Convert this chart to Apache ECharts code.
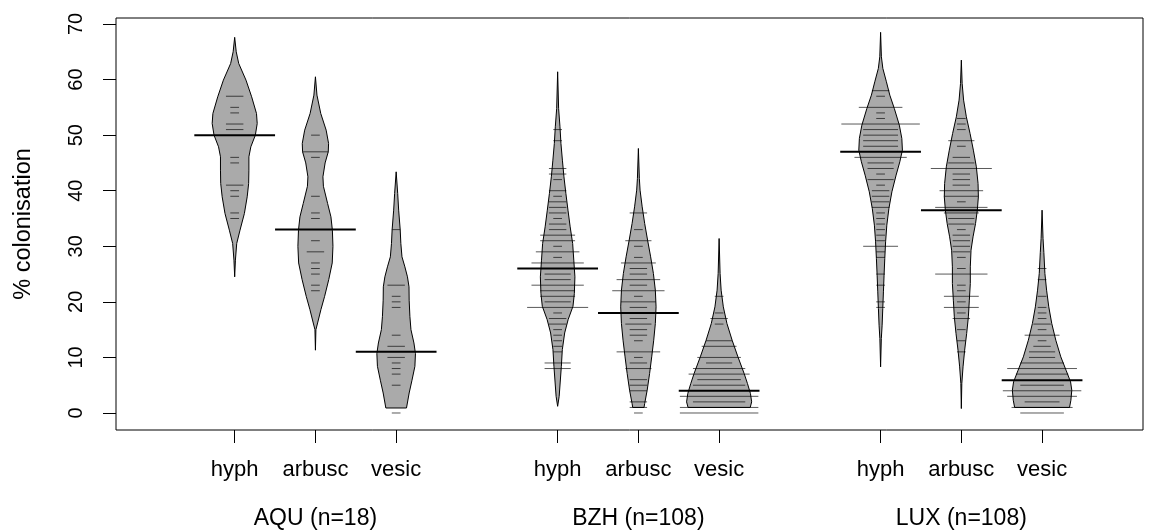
<!DOCTYPE html>
<html>
<head>
<meta charset="utf-8">
<script src="https://cdn.jsdelivr.net/npm/echarts@6/dist/echarts.min.js"></script>
<style>
  html, body { margin: 0; padding: 0; background: #fff; }
  #chart { width: 1155px; height: 530px; }
</style>
</head>
<body>
<div id="chart"></div>
<script>
// ---------- data ----------
const variables = ['hyph', 'arbusc', 'vesic'];
const sites = ['AQU (n=18)', 'BZH (n=108)', 'LUX (n=108)'];
const positions = [1, 2, 3, 5, 6, 7, 9, 10, 11];
const sitePositions = [2, 6, 10];
const yTicks = [0, 10, 20, 30, 40, 50, 60, 70];
const means = [50.0, 33.0, 11.0, 26.0, 18.0, 4.0, 47.0, 36.5, 5.9];

// density profiles: [value, half-width in axis units], bottom to top
const aquHyphDensity = [[24.5,0],[27.5,0.009],[30.5,0.025],[32.9,0.066],[35.9,0.12],[38.9,0.155],[41.3,0.173],[43.7,0.176],[46.1,0.176],[47.9,0.2],[50.0,0.256],[52.1,0.279],[53.9,0.27],[56.9,0.21],[59.9,0.14],[62.9,0.05],[65.0,0.019],[67.6,0]];
const aquArbuscDensity = [[11.3,0],[15.0,0.006],[16.2,0.027],[18.6,0.068],[21.0,0.114],[24.0,0.165],[27.0,0.208],[30.0,0.217],[32.9,0.21],[35.3,0.192],[37.7,0.151],[40.8,0.099],[42.5,0.093],[45.0,0.12],[47.0,0.159],[48.5,0.163],[50.9,0.133],[53.9,0.066],[57.2,0.019],[60.5,0]];
const aquVesicDensity = [[0.9,0.128],[3.6,0.161],[5.9,0.196],[8.4,0.232],[10.7,0.239],[12.6,0.22],[15.0,0.183],[17.4,0.17],[20.3,0.161],[22.7,0.159],[24.5,0.14],[26.3,0.108],[28.1,0.072],[30.5,0.058],[33.0,0.05],[36.5,0.031],[39.5,0.019],[43.4,0]];
const bzhHyphDensity = [[1.2,0],[3.0,0.019],[5.4,0.031],[8.4,0.046],[11.4,0.058],[14.4,0.087],[16.8,0.13],[19.2,0.19],[21.5,0.207],[24.5,0.214],[27.5,0.2],[30.5,0.186],[33.5,0.155],[36.5,0.128],[39.5,0.102],[42.5,0.078],[45.5,0.059],[48.5,0.041],[51.5,0.029],[54.8,0.012],[61.4,0]];
const bzhArbuscDensity = [[1.0,0.07],[1.7,0.078],[4.1,0.109],[7.1,0.139],[10.1,0.165],[13.1,0.19],[16.1,0.21],[19.1,0.219],[22.1,0.21],[25.1,0.186],[28.1,0.152],[31.1,0.114],[34.1,0.078],[37.1,0.047],[40.1,0.021],[42.2,0.012],[47.6,0]];
const bzhVesicDensity = [[1.0,0.385],[2.0,0.403],[3.5,0.388],[5.3,0.351],[7.1,0.31],[10.1,0.233],[13.1,0.161],[16.1,0.097],[19.1,0.052],[22.1,0.025],[25.1,0.012],[31.4,0]];
const luxHyphDensity = [[8.3,0],[13.4,0.009],[15.8,0.019],[18.8,0.027],[21.8,0.035],[24.8,0.043],[27.8,0.052],[30.8,0.062],[33.8,0.077],[36.8,0.103],[39.8,0.14],[42.8,0.192],[45.2,0.238],[47.3,0.27],[49.4,0.263],[51.8,0.232],[54.8,0.17],[57.2,0.114],[59.6,0.072],[62.0,0.028],[64.1,0.01],[68.5,0]];
const luxArbuscDensity = [[0.8,0],[5.3,0.006],[8.3,0.021],[11.3,0.041],[14.3,0.066],[17.3,0.087],[20.3,0.099],[23.3,0.111],[26.3,0.111],[29.3,0.12],[31.7,0.145],[34.1,0.176],[36.5,0.198],[38.9,0.211],[41.3,0.207],[44.3,0.186],[47.3,0.149],[50.3,0.108],[53.3,0.062],[56.3,0.028],[59.3,0.01],[63.5,0]];
const luxVesicDensity = [[1.0,0.34],[2.3,0.357],[4.1,0.368],[5.6,0.353],[7.7,0.297],[10.1,0.232],[13.1,0.17],[16.1,0.12],[19.1,0.083],[22.1,0.056],[25.1,0.035],[28.9,0.022],[31.4,0.012],[36.5,0]];

// observations: [value, number of identical observations]
const aquHyphObs = [[57,2],[55,1],[54,1],[52,2],[51,2],[46,1],[45,1],[41,2],[40,1],[39,1],[36,1],[35,1]];
const aquArbuscObs = [[50,1],[47,3],[46,1],[39,1],[36,1],[35,1],[31,1],[29,2],[27,1],[26,1],[25,1],[23,1],[22,1]];
const aquVesicObs = [[33,1],[23,2],[21,1],[20,1],[19,1],[14,1],[12,2],[10,2],[9,1],[8,1],[7,1],[5,1],[0,1]];
const bzhHyphObs = [[51,1],[49,1],[44,2],[43,2],[42,1],[40,2],[39,1],[38,2],[37,2],[36,2],[35,1],[34,2],[33,2],[32,4],[31,4],[30,1],[29,5],[28,1],[27,6],[25,3],[24,3],[23,6],[22,4],[21,4],[20,3],[19,7],[18,1],[17,2],[16,2],[15,1],[14,1],[13,1],[12,1],[11,1],[9,3],[8,3]];
const bzhArbuscObs = [[36,2],[33,1],[31,3],[30,1],[28,1],[27,4],[26,2],[25,2],[24,5],[23,2],[22,6],[21,1],[20,4],[19,2],[17,2],[16,3],[15,2],[14,2],[13,1],[11,5],[10,1],[9,2],[8,3],[6,2],[5,2],[4,2],[2,2],[1,2],[0,1]];
const bzhVesicObs = [[21,1],[18,1],[17,2],[16,1],[13,3],[12,4],[10,5],[9,3],[8,6],[7,7],[6,5],[5,6],[3,9],[2,6],[1,9],[0,9]];
const luxHyphObs = [[58,2],[57,1],[55,5],[54,1],[53,1],[52,9],[51,4],[50,4],[49,4],[48,4],[46,6],[45,3],[44,3],[43,1],[42,3],[41,1],[40,2],[39,2],[38,2],[37,2],[36,1],[35,1],[34,1],[33,1],[32,1],[31,1],[30,4],[29,1],[28,1],[25,1],[23,1],[20,1],[19,1]];
const luxArbuscObs = [[53,1],[52,1],[51,1],[49,3],[48,1],[46,2],[45,3],[44,7],[43,2],[42,2],[41,2],[40,5],[39,4],[38,1],[37,6],[36,4],[35,3],[34,3],[33,1],[32,2],[31,2],[30,2],[29,2],[28,1],[26,1],[25,6],[23,1],[22,1],[21,4],[20,1],[19,4],[18,1],[17,2],[15,1],[13,1],[11,1]];
const luxVesicObs = [[26,1],[24,1],[21,1],[19,1],[18,1],[17,1],[16,2],[15,1],[14,4],[13,1],[12,2],[11,3],[10,3],[9,5],[8,8],[7,6],[5,5],[4,9],[3,8],[2,4],[1,7],[0,5]];

// ---------- assembly ----------
const densities = [aquHyphDensity, aquArbuscDensity, aquVesicDensity,
                   bzhHyphDensity, bzhArbuscDensity, bzhVesicDensity,
                   luxHyphDensity, luxArbuscDensity, luxVesicDensity];
const observations = [aquHyphObs, aquArbuscObs, aquVesicObs,
                      bzhHyphObs, bzhArbuscObs, bzhVesicObs,
                      luxHyphObs, luxArbuscObs, luxVesicObs];

const obsData = [];
observations.forEach((obs, i) => obs.forEach(([v, n]) => obsData.push([positions[i], v, n])));

const FONT = "'Liberation Sans', Arial, Helvetica, sans-serif";
const LINE_PER_OBS = 0.108;
const MEAN_HALF = 0.5;
const X_MIN = -0.47, X_MAX = 12.25;

function varLabel(v) {
  const i = positions.indexOf(Math.round(v));
  return i < 0 ? '' : variables[i % 3];
}
function siteLabel(v) {
  const s = sitePositions.indexOf(Math.round(v));
  return s < 0 ? '' : sites[s];
}

const gridRect = { left: 116, right: 12, top: 18, bottom: 100, containLabel: false, outerBoundsMode: 'none' };

const chart = echarts.init(document.getElementById('chart'), null, { renderer: 'canvas' });
chart.setOption({
  animation: false,
  backgroundColor: '#fff',
  grid: [
    Object.assign({ show: true, borderColor: '#000', borderWidth: 1 }, gridRect),
    Object.assign({ show: false }, gridRect)
  ],
  xAxis: [
    {
      gridIndex: 0, type: 'value', min: X_MIN, max: X_MAX,
      axisLine: { show: false, onZero: false },
      splitLine: { show: false },
      axisTick: { show: true, customValues: positions, length: 13, lineStyle: { color: '#000', width: 1 } },
      axisLabel: {
        customValues: positions, formatter: varLabel, margin: 27,
        showMinLabel: true, showMaxLabel: true,
        fontSize: 22, lineHeight: 25, color: '#000', fontFamily: FONT
      }
    },
    {
      gridIndex: 1, type: 'value', min: X_MIN, max: X_MAX,
      axisLine: { show: false, onZero: false },
      splitLine: { show: false },
      axisTick: { show: false },
      axisLabel: {
        customValues: sitePositions, formatter: siteLabel, margin: 76,
        showMinLabel: true, showMaxLabel: true,
        fontSize: 23, lineHeight: 25, color: '#000', fontFamily: FONT
      }
    }
  ],
  yAxis: [
    {
      gridIndex: 0, type: 'value', min: -3.06, max: 71.08,
      axisLine: { show: false, onZero: false },
      splitLine: { show: false },
      axisTick: { show: true, customValues: yTicks, length: 13, lineStyle: { color: '#000', width: 1 } },
      axisLabel: { customValues: yTicks, rotate: 90, margin: 30, fontSize: 20, color: '#000', fontFamily: FONT,
                   showMinLabel: true, showMaxLabel: true },
      name: '% colonisation', nameLocation: 'middle', nameRotate: 90, nameGap: 80,
      nameTextStyle: { fontSize: 23.5, color: '#000', fontFamily: FONT }
    },
    {
      gridIndex: 1, type: 'value', min: -3.06, max: 71.08, show: false
    }
  ],
  series: [
    {
      type: 'custom',
      xAxisIndex: 0, yAxisIndex: 0,
      data: positions.map((p, i) => [p, means[i]]),
      renderItem: function (params, api) {
        const i = params.dataIndex;
        const p = api.value(0);
        const d = densities[i];
        const right = d.map(([v, w]) => api.coord([p + w, v]));
        const left = d.slice().reverse().map(([v, w]) => api.coord([p - w, v]));
        return {
          type: 'polygon',
          shape: { points: right.concat(left) },
          style: { fill: '#AAAAAA', stroke: '#000', lineWidth: 1 }
        };
      },
      z: 2
    },
    {
      type: 'custom',
      xAxisIndex: 0, yAxisIndex: 0,
      data: obsData,
      renderItem: function (params, api) {
        const p = api.value(0), v = api.value(1), n = api.value(2);
        const a = api.coord([p - n * LINE_PER_OBS / 2, v]);
        const b = api.coord([p + n * LINE_PER_OBS / 2, v]);
        return {
          type: 'line',
          shape: { x1: a[0], y1: a[1], x2: b[0], y2: b[1] },
          style: { stroke: 'rgba(0,0,0,0.65)', lineWidth: 1 }
        };
      },
      z: 3
    },
    {
      type: 'custom',
      xAxisIndex: 0, yAxisIndex: 0,
      data: positions.map((p, i) => [p, means[i]]),
      renderItem: function (params, api) {
        const p = api.value(0), v = api.value(1);
        const a = api.coord([p - MEAN_HALF, v]);
        const b = api.coord([p + MEAN_HALF, v]);
        return {
          type: 'line',
          shape: { x1: a[0], y1: a[1], x2: b[0], y2: b[1] },
          style: { stroke: '#000', lineWidth: 2 }
        };
      },
      z: 4
    }
  ]
});
</script>
</body>
</html>
